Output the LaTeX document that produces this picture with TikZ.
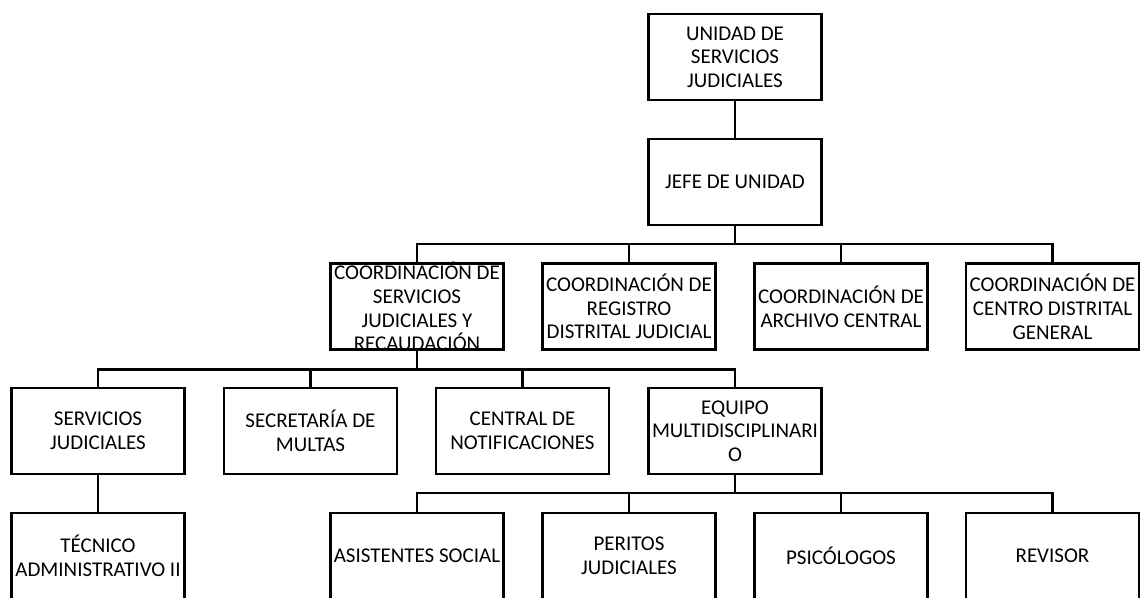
\documentclass[tikz,border=0pt]{standalone}
\usepackage{fontspec}
\setmainfont{Carlito}
\usepackage{tikz}
\tikzset{box/.style={draw, line width=2pt, minimum width=129.75pt, minimum height=64.5pt, inner sep=1pt, align=center, font=\fontsize{15.75}{17.7}\selectfont}}

\begin{document}
\begin{tikzpicture}[x=.75pt,y=-.75pt,line width=2pt]
\useasboundingbox (0,0) rectangle (1140,597);
\node[box] (u) at (735,57) {UNIDAD DE\\SERVICIOS\\JUDICIALES};
\node[box] (j) at (735,182) {JEFE DE UNIDAD};
\node[box,inner ysep=-2pt] (c1) at (417,306.7) {COORDINACIÓN DE\\SERVICIOS\\JUDICIALES Y\\RECAUDACIÓN};
\node[box] (c2) at (629,306.7) {COORDINACIÓN DE\\REGISTRO\\DISTRITAL JUDICIAL};
\node[box] (c3) at (841,306.7) {COORDINACIÓN DE\\ARCHIVO CENTRAL};
\node[box] (c4) at (1052.5,306.7) {COORDINACIÓN DE\\CENTRO DISTRITAL\\GENERAL};
\node[box] (s1) at (98,431) {SERVICIOS\\JUDICIALES};
\node[box] (s2) at (310.5,431) {SECRETARÍA DE\\MULTAS};
\node[box] (s3) at (522.5,431) {CENTRAL DE\\NOTIFICACIONES};
\node[box] (s4) at (735,431) {EQUIPO\\MULTIDISCIPLINARI\\O};
\node[box] (t1) at (98,556) {TÉCNICO\\ADMINISTRATIVO II};
\node[box] (p1) at (417,556) {ASISTENTES SOCIAL};
\node[box] (p2) at (629,556) {PERITOS\\JUDICIALES};
\node[box] (p3) at (841,556) {PSICÓLOGOS};
\node[box] (p4) at (1052.5,556) {REVISOR};
\coordinate (b1) at (735,244);
\coordinate (b2) at (417,369.5);
\coordinate (b3) at (735,493);
\draw (u) -- (j) (j) -- (b1) (c1.north) |- (b1) -| (c4.north) (c2.north) -- (c2.north |- b1) (c3.north) -- (c3.north |- b1);
\draw (c1) -- (b2) (s1.north) |- (b2) -| (s4.north) (s2.north) -- (s2.north |- b2) (s3.north) -- (s3.north |- b2);
\draw (s4) -- (b3) (p1.north) |- (b3) -| (p4.north) (p2.north) -- (p2.north |- b3) (p3.north) -- (p3.north |- b3);
\draw (s1) -- (t1);
\end{tikzpicture}
\end{document}
